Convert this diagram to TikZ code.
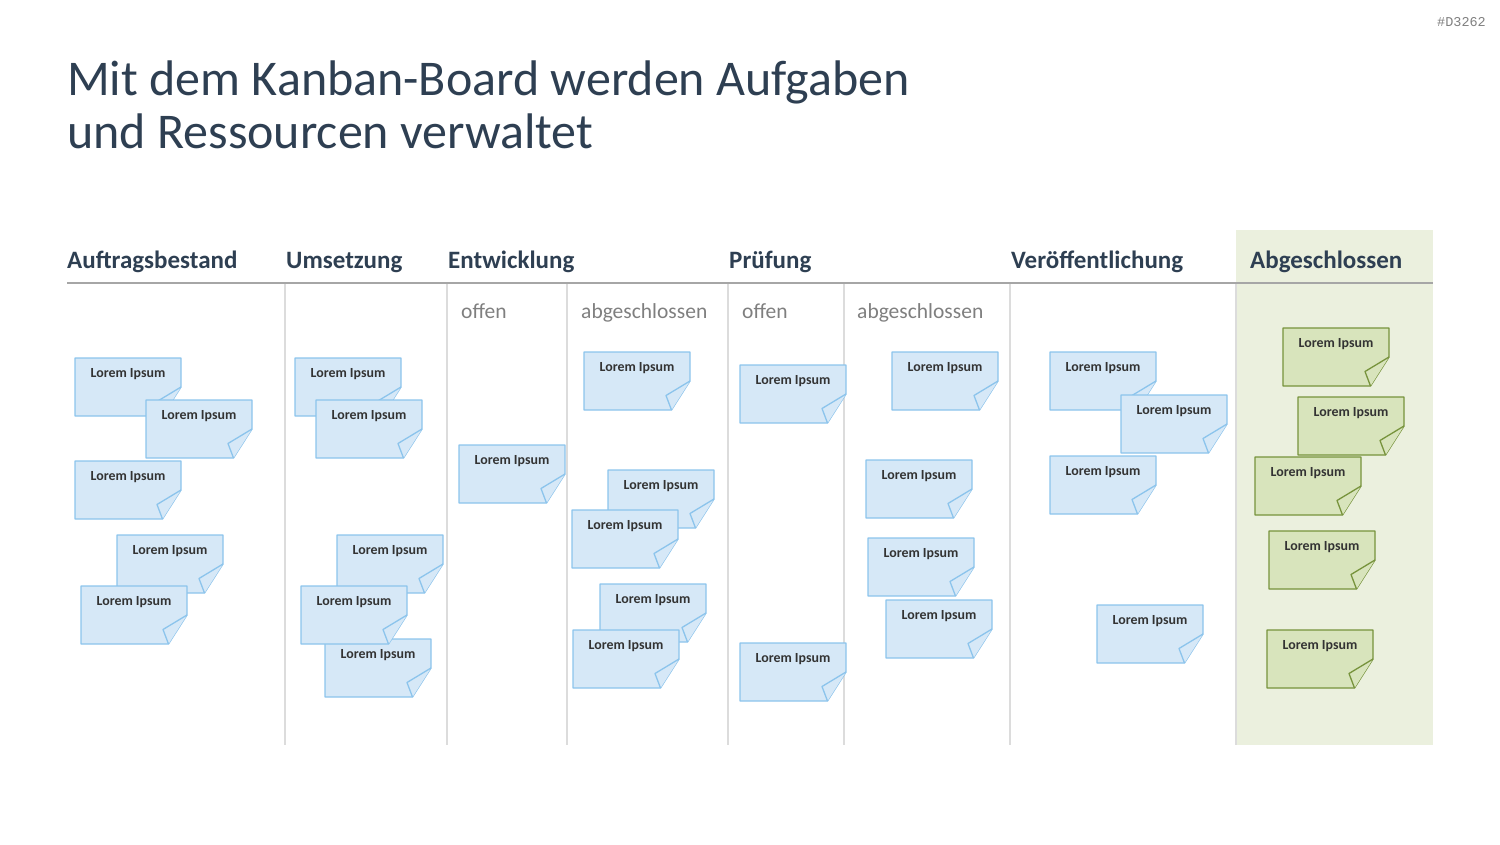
\documentclass[tikz,border=0pt]{standalone}
\usepackage{fontspec}
\setmainfont{Carlito}
\newfontfamily\codefont{Liberation Mono}
\usepackage{tikz}
\usetikzlibrary{positioning}
\usepackage{xcolor}
\definecolor{titleblue}{HTML}{2E3F52}
\definecolor{subgray}{HTML}{7F7F7F}
\definecolor{lanegray}{HTML}{DCDCDC}
\definecolor{rulegray}{HTML}{A6A6A6}
\definecolor{doneback}{HTML}{EBF0DE}
\definecolor{noteblue}{HTML}{D6E8F7}
\definecolor{noteblueline}{HTML}{8CC4EC}
\definecolor{notegreen}{HTML}{D8E4BC}
\definecolor{notegreenline}{HTML}{77933C}
\definecolor{notetextcol}{HTML}{333333}

\begin{document}
\begin{tikzpicture}[x=1pt, y=-1pt,
  title/.style={anchor=base west, inner sep=0, text=titleblue, font=\fontsize{50}{54}\selectfont},
  heading/.style={anchor=base west, inner sep=0, text=titleblue, font=\fontsize{25}{28}\selectfont\bfseries},
  subhead/.style={anchor=base west, inner sep=0, text=subgray, font=\fontsize{21.5}{26}\selectfont},
  lane/.style={draw=lanegray, line width=1.3pt},
  bluenote/.style={draw=noteblueline, fill=noteblue, line width=1.3pt, line join=round},
  greennote/.style={draw=notegreenline, fill=notegreen, line width=1.3pt, line join=round},
  notetext/.style={anchor=base, inner sep=0, text=notetextcol, font=\fontsize{13.9}{16}\selectfont\bfseries}]
\useasboundingbox (0,0) rectangle (1500,844);

% title
\node[title] (title1) at (67,95) {Mit dem Kanban-Board werden Aufgaben};
\node[title] (title2) at (67,148) {und Ressourcen verwaltet};
\node[anchor=base east, inner sep=0, text=subgray, font=\codefont\fontsize{13.5}{15}\selectfont] (code) at (1486,26) {\#D3262};

% board
\fill[doneback] (1236,230) rectangle (1433,745);
\draw[rulegray, line width=1.5pt] (67,283) -- (1433,283);
\foreach \x in {285,447,567,728,844,1010,1236}
  \draw[lane] (\x,284) -- (\x,745);

% column headings
\node[heading] (h1) at (67,268) {Auftragsbestand};
\node[heading] (h2) at (286,268) {Umsetzung};
\node[heading] (h3) at (448,268) {Entwicklung};
\node[heading] (h4) at (729,268) {Prüfung};
\node[heading] (h5) at (1011,268) {Veröffentlichung};
\node[heading] (h6) at (1250,268) {Abgeschlossen};
\node[subhead] (s1) at (461,318) {offen};
\node[subhead] (s2) at (581,318) {abgeschlossen};
\node[subhead] (s3) at (742,318) {offen};
\node[subhead] (s4) at (857,318) {abgeschlossen};

% sticky notes
\foreach \x/\y [count=\i] in {75/358,146/400,75/461,117/535,81/586,
    295/358,316/400,337/535,325/639,301/586,
    459/445,
    584/352,608/470,572/510,600/584,573/630,
    740/365,740/643,
    892/352,866/460,868/538,886/600,
    1050/352,1121/395,1050/456,1097/605} {
  \draw[bluenote] (\x,\y) -- ++(106,0) -- ++(0,29) -- ++(-18.5,29) -- ++(-87.5,0) -- cycle;
  \draw[bluenote] (\x+106,\y+29) -- (\x+82,\y+43.5) -- (\x+87.5,\y+58);
  \node[notetext] (b\i) at (\x+53,\y+19) {Lorem Ipsum};
}
\foreach \x/\y [count=\i] in {1283/328,1298/397,1255/457,1269/531,1267/630} {
  \draw[greennote] (\x,\y) -- ++(106,0) -- ++(0,29) -- ++(-18.5,29) -- ++(-87.5,0) -- cycle;
  \draw[greennote] (\x+106,\y+29) -- (\x+82,\y+43.5) -- (\x+87.5,\y+58);
  \node[notetext] (g\i) at (\x+53,\y+19) {Lorem Ipsum};
}
\end{tikzpicture}
\end{document}
